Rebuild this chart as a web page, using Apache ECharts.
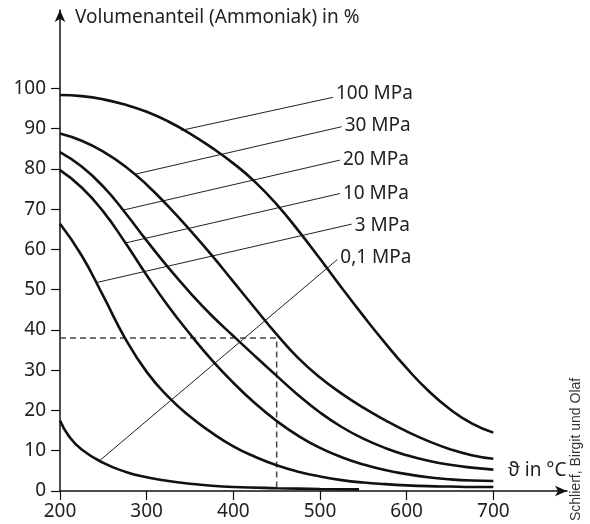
<!DOCTYPE html>
<html><head><meta charset="utf-8">
<script src="https://cdn.jsdelivr.net/npm/echarts@6/dist/echarts.min.js"></script>
<style>html,body{margin:0;padding:0;background:#fff}#c{width:590px;height:524px}</style>
</head><body><div id="c"></div>
<script>
// Temperatures (°C)
const temps = [200,225,250,275,300,325,350,375,400,425,450,475,500,525,550,575,600,625,650,675,700];
// Volume fraction of ammonia (%) per pressure
const p100 = [98.4,98.1,97.3,96.0,94.2,91.8,88.8,85.3,81.4,76.8,71.2,64.7,57.7,50.5,43.5,36.8,30.5,24.9,20.3,16.8,14.5];
const p30  = [88.8,87.0,84.3,80.7,76.1,70.7,64.8,58.6,52.0,45.4,38.9,33.0,28.2,24.2,20.7,17.6,14.8,12.4,10.4,8.9,8.0];
const p20  = [84.2,80.6,75.6,69.2,62.2,55.5,49.3,43.6,38.5,33.5,28.6,23.8,19.5,15.9,13.0,10.7,8.9,7.5,6.5,5.8,5.3];
const p10  = [79.7,75.4,69.4,61.8,53.6,45.9,39.0,32.6,26.9,21.8,17.4,13.7,10.7,8.4,6.6,5.2,4.2,3.4,2.9,2.6,2.5];
const p3   = [66.4,58.5,48.4,38.0,29.6,23.4,18.5,14.5,11.1,8.5,6.4,4.8,3.6,2.7,2.1,1.7,1.4,1.2,1.1,1.0,1.0];
const temps01 = [200,210,225,250,275,300,325,350,375,400,450,500,545];
const p01  = [17.5,13.7,10.3,7.0,4.8,3.4,2.5,1.8,1.3,1.0,0.7,0.5,0.4];
// Leader lines [start on curve, end at label]
const leaders = [
  {name:'100 MPa', pts:[[340,89.6],[515,97.8]]},
  {name:'30 MPa',  pts:[[286.5,78.7],[525,90.5]]},
  {name:'20 MPa',  pts:[[273,69.8],[523,82.2]]},
  {name:'10 MPa',  pts:[[275,61.6],[523,73.9]]},
  {name:'3 MPa',   pts:[[242.3,51.8],[536.5,66.3]]},
  {name:'0,1 MPa', pts:[[246,7.6],[520,57.5]]}
];
const labelLift = [4,1,1,0,-1,2];
// Reference reading
const refT = 450, refV = 38;
// Ticks
const xTicks = [200,300,400,500,600,700];
const yTicks = [0,10,20,30,40,50,60,70,80,90,100];

const FONT = '"Noto Sans", "Open Sans", sans-serif';
const zip = (xs, ys) => xs.map((x,i)=>[x, ys[i]]);
function curve(data){
  return {type:'line', data, smooth:0.5, symbol:'none', silent:true,
    lineStyle:{color:'#111', width:2.6}, z:3};
}
const series = [
  curve(zip(temps,p100)), curve(zip(temps,p30)), curve(zip(temps,p20)),
  curve(zip(temps,p10)), curve(zip(temps,p3)), curve(zip(temps01,p01))
];
leaders.forEach((l,i) => series.push({
  type:'line', data:l.pts, symbol:'none', silent:true, z:2,
  lineStyle:{color:'#222', width:1},
  endLabel:{show:true, formatter:l.name, distance:3, offset:[0,-labelLift[i]], fontSize:19, color:'#222', fontFamily:FONT}
}));
series.push({type:'line', data:[[xTicks[0],refV],[refT,refV],[refT,0]], symbol:'none', silent:true, z:1,
  lineStyle:{color:'#444', width:1.5, type:[6,4]}});

const chart = echarts.init(document.getElementById('c'), null, {renderer:'canvas'});
chart.setOption({
  animation:false,
  backgroundColor:'#fff',
  grid:{left:60, right:23, top:10, bottom:33, containLabel:false},
  xAxis:{type:'value', min:200, max:785,
    axisLine:{lineStyle:{color:'#111', width:1.5}, symbol:['none','arrow'], symbolSize:[8,12]},
    axisTick:{show:true, length:9, customValues:xTicks, lineStyle:{color:'#111', width:1.2}},
    axisLabel:{customValues:xTicks, fontSize:19, color:'#222', fontFamily:FONT, margin:11},
    splitLine:{show:false}},
  yAxis:{type:'value', min:0, max:119.5,
    axisLine:{show:true, lineStyle:{color:'#111', width:1.5}, symbol:['none','arrow'], symbolSize:[8,12]},
    axisTick:{show:true, length:9, customValues:yTicks, lineStyle:{color:'#111', width:1.2}},
    axisLabel:{customValues:yTicks, fontSize:19, color:'#222', fontFamily:FONT, margin:14},
    splitLine:{show:false}},
  graphic:[
    {type:'text', left:75, top:8, style:{text:'Volumenanteil (Ammoniak) in %', fontSize:19, fill:'#222', fontFamily:FONT}},
    {type:'text', left:508, top:461, style:{text:'ϑ in °C', fontSize:19, fill:'#222', fontFamily:FONT}},
    {type:'text', x:569, y:521, rotation:Math.PI/2, style:{text:'Schlierf, Birgit und Olaf', fontSize:14, fill:'#333', fontFamily:'"Liberation Sans", Arial, sans-serif'}}
  ],
  series
});
</script></body></html>
